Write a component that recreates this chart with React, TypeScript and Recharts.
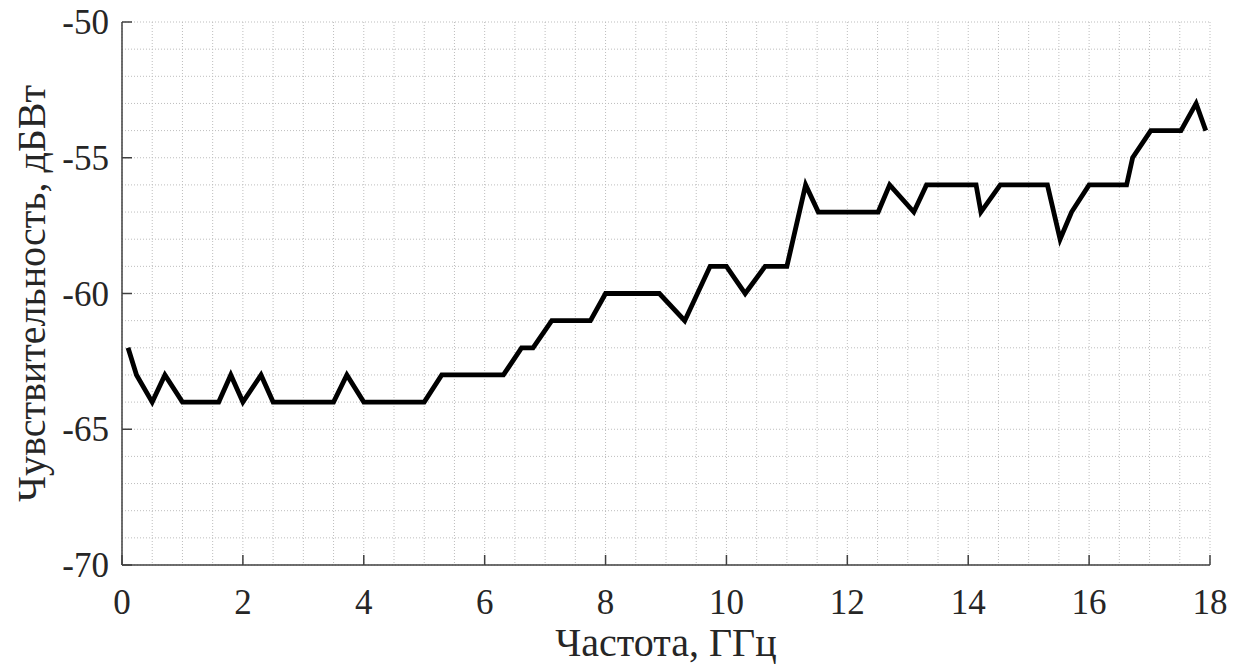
import { LineChart, Line, XAxis, YAxis, CartesianGrid } from 'recharts'

// frequency, GHz (vertices)
const freq = [
  0.1, 0.24, 0.5, 0.71, 1.0, 1.6, 1.8, 2.0, 2.3, 2.5, 3.5, 3.72, 4.0, 5.0, 5.29, 6.31,
  6.61, 6.8, 7.11, 7.75, 8.0, 8.89, 9.31, 9.73, 10.0, 10.31, 10.64, 11.0, 11.31, 11.52,
  12.51, 12.7, 13.1, 13.31, 14.13, 14.21, 14.53, 15.31, 15.52, 15.71, 16.0, 16.62, 16.72,
  17.02, 17.52, 17.77, 17.93,
]

// sensitivity, dBW
const sens = [
  -62, -63, -64, -63, -64, -64, -63, -64, -63, -64, -64, -63, -64, -64, -63, -63,
  -62, -62, -61, -61, -60, -60, -61, -59, -59, -60, -59, -59, -56, -57,
  -57, -56, -57, -56, -56, -57, -56, -56, -58, -57, -56, -56, -55,
  -54, -54, -53, -54,
]

const xTicks = [0, 2, 4, 6, 8, 10, 12, 14, 16, 18]
const yTicks = [-70, -65, -60, -55, -50]
const xMinor = [
  0, 0.5, 1, 1.5, 2, 2.5, 3, 3.5, 4, 4.5, 5, 5.5, 6, 6.5, 7, 7.5, 8, 8.5, 9, 9.5,
  10, 10.5, 11, 11.5, 12, 12.5, 13, 13.5, 14, 14.5, 15, 15.5, 16, 16.5, 17, 17.5, 18,
]
const yMinor = [
  -70, -69, -68, -67, -66, -65, -64, -63, -62, -61, -60, -59, -58, -57, -56, -55,
  -54, -53, -52, -51, -50,
]

const data = freq.map((f, i) => ({ f, s: sens[i] }))

const FONT = '"Liberation Serif", "Times New Roman", "DejaVu Serif", serif'
const AXIS = '#404040'
const TEXT = '#262626'
const TICK_LEN = 10

// bottom/left axes carry the minor ticks (for the grid) but only label/tick the majors
const BottomTick = ({ x, y, payload }: any) =>
  xTicks.includes(payload.value) ? (
    <g>
      <line x1={x} y1={y} x2={x} y2={y - TICK_LEN} stroke={AXIS} strokeWidth={1.5} />
      <text x={x} y={y + 49} textAnchor="middle" style={{ fontFamily: FONT }} fontSize={35} fill={TEXT}>
        {payload.value}
      </text>
    </g>
  ) : (
    <g />
  )

const LeftTick = ({ x, y, payload }: any) =>
  yTicks.includes(payload.value) ? (
    <g>
      <line x1={x} y1={y} x2={x + TICK_LEN} y2={y} stroke={AXIS} strokeWidth={1.5} />
      <text x={x - 13} y={y + 12} textAnchor="end" style={{ fontFamily: FONT }} fontSize={35} fill={TEXT}>
        {payload.value}
      </text>
    </g>
  ) : (
    <g />
  )

const TopTick = ({ x, y }: any) => (
  <line x1={x} y1={y} x2={x} y2={y + TICK_LEN} stroke={AXIS} strokeWidth={1.5} />
)

const RightTick = ({ x, y }: any) => (
  <line x1={x} y1={y} x2={x - TICK_LEN} y2={y} stroke={AXIS} strokeWidth={1.5} />
)

export default function App() {
  return (
    <div style={{ position: 'absolute', left: 0, top: 0, background: '#fff' }}>
      <LineChart
        width={1243}
        height={670}
        data={data}
        margin={{ top: 22, right: 33, bottom: 0, left: 0 }}
      >
        <CartesianGrid
          xAxisId="bottom"
          yAxisId="left"
          stroke="#bdbdbd"
          strokeDasharray="1 2"
        />
        <XAxis
          xAxisId="bottom"
          dataKey="f"
          type="number"
          domain={[0, 18]}
          ticks={xMinor}
          interval={0}
          height={105}
          tickSize={0}
          tickMargin={0}
          stroke={AXIS}
          strokeWidth={1.5}
          tick={<BottomTick />}
          label={{
            value: 'Частота, ГГц',
            position: 'insideBottom',
            offset: 14,
            fontSize: 40,
            fill: TEXT,
            style: { fontFamily: FONT },
          }}
        />
        <XAxis
          xAxisId="top"
          orientation="top"
          dataKey="f"
          type="number"
          domain={[0, 18]}
          ticks={xTicks}
          interval={0}
          height={0}
          tickSize={0}
          tickMargin={0}
          stroke={AXIS}
          strokeWidth={1.5}
          tick={<TopTick />}
        />
        <YAxis
          yAxisId="left"
          type="number"
          domain={[-70, -50]}
          ticks={yMinor}
          interval={0}
          width={122}
          tickSize={0}
          tickMargin={0}
          stroke={AXIS}
          strokeWidth={1.5}
          tick={<LeftTick />}
          label={{
            value: 'Чувствительность, дБВт',
            angle: -90,
            position: 'insideLeft',
            offset: 31,
            fontSize: 40,
            fill: TEXT,
            style: { textAnchor: 'middle', fontFamily: FONT },
          }}
        />
        <YAxis
          yAxisId="right"
          orientation="right"
          type="number"
          domain={[-70, -50]}
          ticks={yTicks}
          interval={0}
          width={0}
          tickSize={0}
          tickMargin={0}
          stroke={AXIS}
          strokeWidth={1.5}
          tick={<RightTick />}
        />
        <Line
          xAxisId="bottom"
          yAxisId="left"
          type="linear"
          dataKey="s"
          stroke="#000"
          strokeWidth={4.8}
          dot={false}
          isAnimationActive={false}
        />
      </LineChart>
    </div>
  )
}
